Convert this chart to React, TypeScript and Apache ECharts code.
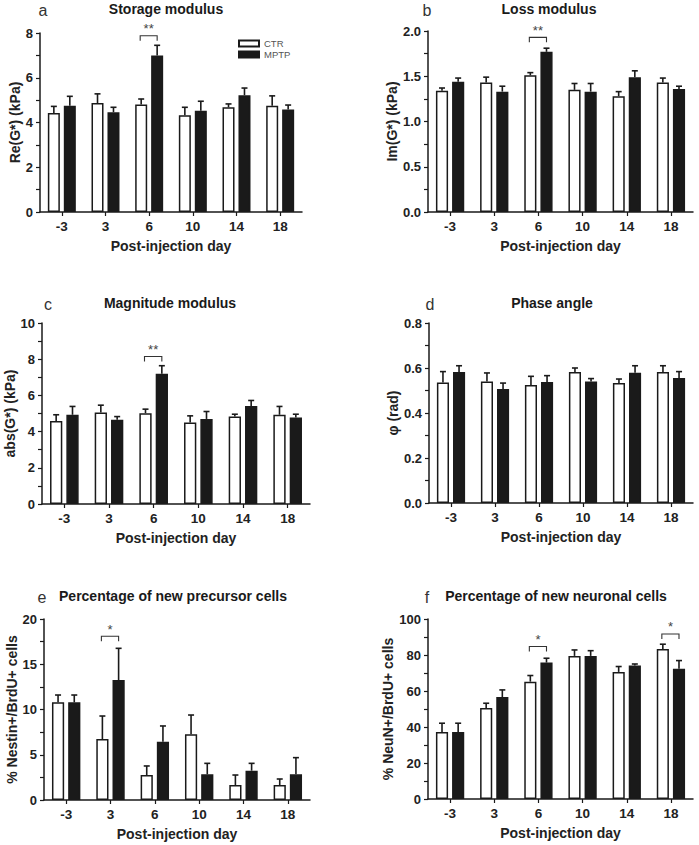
import React, { useEffect, useRef } from "react";
import * as echarts from "echarts";

// ---------- data ----------
const days = ["-3", "3", "6", "10", "14", "18"];

const storageCTR = [4.43, 4.87, 4.8, 4.32, 4.68, 4.75];
const storageCTRErr = [0.29, 0.41, 0.25, 0.36, 0.15, 0.44];
const storageMPTP = [4.75, 4.46, 7.0, 4.53, 5.22, 4.58];
const storageMPTPErr = [0.42, 0.22, 0.45, 0.42, 0.32, 0.2];

const lossCTR = [1.34, 1.43, 1.51, 1.35, 1.28, 1.43];
const lossCTRErr = [0.03, 0.06, 0.03, 0.07, 0.05, 0.05];
const lossMPTP = [1.44, 1.33, 1.77, 1.33, 1.49, 1.36];
const lossMPTPErr = [0.04, 0.06, 0.04, 0.09, 0.07, 0.03];

const magCTR = [4.59, 5.06, 5.02, 4.5, 4.83, 4.93];
const magCTRErr = [0.34, 0.4, 0.22, 0.37, 0.13, 0.46];
const magMPTP = [4.93, 4.65, 7.2, 4.7, 5.42, 4.78];
const magMPTPErr = [0.46, 0.18, 0.44, 0.41, 0.3, 0.18];

const phaseCTR = [0.536, 0.54, 0.524, 0.582, 0.533, 0.582];
const phaseCTRErr = [0.048, 0.038, 0.039, 0.018, 0.018, 0.028];
const phaseMPTP = [0.582, 0.507, 0.538, 0.54, 0.579, 0.556];
const phaseMPTPErr = [0.028, 0.026, 0.028, 0.013, 0.031, 0.028];

const nestinCTR = [10.8, 6.74, 2.76, 7.26, 1.66, 1.66];
const nestinCTRErr = [0.8, 2.54, 1.0, 2.13, 1.1, 0.66];
const nestinMPTP = [10.8, 13.26, 6.45, 2.84, 3.24, 2.84];
const nestinMPTPErr = [0.8, 3.5, 1.73, 1.21, 0.81, 1.84];

const neunCTR = [37.2, 50.5, 65.2, 79.5, 70.6, 83.4];
const neunCTRErr = [4.9, 2.7, 3.4, 3.3, 3.0, 2.6];
const neunMPTP = [37.2, 56.6, 75.8, 79.5, 74.1, 72.3];
const neunMPTPErr = [4.9, 4.0, 2.4, 2.9, 0.9, 4.6];

const sigA = [{ day: "6", level: 7.88, mark: "**" }];
const sigB = [{ day: "6", level: 1.93, mark: "**" }];
const sigC = [{ day: "6", level: 8.15, mark: "**" }];
const sigD: { day: string; level: number; mark: string }[] = [];
const sigE = [{ day: "3", level: 18.1, mark: "*" }];
const sigF = [
  { day: "6", level: 84.7, mark: "*" },
  { day: "18", level: 91.7, mark: "*" },
];

const FONT = "'Liberation Sans', Arial, Helvetica, sans-serif";
const INK = "#1a1a1a";
const BAR_W = 0.275;
const BAR_GAP = 0.33;

type Panel = {
  letter: string;
  title: string;
  yName: string;
  ctr: number[];
  ctrErr: number[];
  mptp: number[];
  mptpErr: number[];
  sig: { day: string; level: number; mark: string }[];
  max: number;
  interval: number;
  decimals: number;
  // layout
  grid: { left: number; top: number; width: number; height: number };
  nameGap: number;
  titleX: number;
  titleY: number;
  letterX: number;
};

const panels: Panel[] = [
  {
    letter: "a", title: "Storage modulus", yName: "Re(G*) (kPa)",
    ctr: storageCTR, ctrErr: storageCTRErr, mptp: storageMPTP, mptpErr: storageMPTPErr,
    sig: sigA, max: 8, interval: 2, decimals: 0,
    grid: { left: 40, top: 33, width: 262, height: 179 }, nameGap: 18,
    titleX: 166, titleY: 9, letterX: 43,
  },
  {
    letter: "b", title: "Loss modulus", yName: "Im(G*) (kPa)",
    ctr: lossCTR, ctrErr: lossCTRErr, mptp: lossMPTP, mptpErr: lossMPTPErr,
    sig: sigB, max: 2, interval: 0.5, decimals: 1,
    grid: { left: 428, top: 31, width: 265, height: 181 }, nameGap: 28,
    titleX: 549, titleY: 9, letterX: 427,
  },
  {
    letter: "c", title: "Magnitude modulus", yName: "abs(G*) (kPa)",
    ctr: magCTR, ctrErr: magCTRErr, mptp: magMPTP, mptpErr: magMPTPErr,
    sig: sigC, max: 10, interval: 2, decimals: 0,
    grid: { left: 42, top: 323, width: 268, height: 181 }, nameGap: 22,
    titleX: 170, titleY: 303, letterX: 48,
  },
  {
    letter: "d", title: "Phase angle", yName: "φ (rad)",
    ctr: phaseCTR, ctrErr: phaseCTRErr, mptp: phaseMPTP, mptpErr: phaseMPTPErr,
    sig: sigD, max: 0.8, interval: 0.2, decimals: 1,
    grid: { left: 429, top: 323, width: 264, height: 180 }, nameGap: 29,
    titleX: 552, titleY: 303, letterX: 430,
  },
  {
    letter: "e", title: "Percentage of new precursor cells", yName: "% Nestin+/BrdU+ cells",
    ctr: nestinCTR, ctrErr: nestinCTRErr, mptp: nestinMPTP, mptpErr: nestinMPTPErr,
    sig: sigE, max: 20, interval: 5, decimals: 0,
    grid: { left: 44, top: 619, width: 266, height: 181 }, nameGap: 24,
    titleX: 173, titleY: 596, letterX: 42,
  },
  {
    letter: "f", title: "Percentage of new neuronal cells", yName: "% NeuN+/BrdU+ cells",
    ctr: neunCTR, ctrErr: neunCTRErr, mptp: neunMPTP, mptpErr: neunMPTPErr,
    sig: sigF, max: 100, interval: 20, decimals: 0,
    grid: { left: 428, top: 619, width: 265, height: 180 }, nameGap: 29,
    titleX: 556, titleY: 596, letterX: 427,
  },
];

function barOffset(api: any) {
  const band = api.size([1, 0])[0];
  const bw = band * BAR_W;
  const gap = bw * BAR_GAP;
  return (bw + gap) / 2;
}

function buildOption() {
  const grid: any[] = [];
  const xAxis: any[] = [];
  const yAxis: any[] = [];
  const series: any[] = [];
  const graphic: any[] = [];

  panels.forEach((p, i) => {
    grid.push({ ...p.grid, containLabel: false });
    xAxis.push({
      type: "category",
      gridIndex: i,
      data: days,
      axisLine: { lineStyle: { color: INK, width: 1.5 } },
      axisTick: { show: true, alignWithLabel: true, length: 4, lineStyle: { color: INK, width: 1.2 } },
      axisLabel: { fontSize: 13.5, fontWeight: "bold", color: "#222", margin: 7, fontFamily: FONT },
      name: "Post-injection day",
      nameLocation: "middle",
      nameGap: 27,
      nameTextStyle: { fontSize: 14, fontWeight: "bold", color: "#222", fontFamily: FONT },
    });
    yAxis.push({
      type: "value",
      gridIndex: i,
      min: 0,
      max: p.max,
      interval: p.interval,
      axisLine: { show: true, lineStyle: { color: INK, width: 1.5 } },
      axisTick: { show: true, length: 4, lineStyle: { color: INK, width: 1.2 } },
      minorTick: { show: true, splitNumber: 2, length: 4, lineStyle: { color: INK, width: 1.2 } },
      splitLine: { show: false },
      minorSplitLine: { show: false },
      axisLabel: {
        fontSize: 13, fontWeight: "bold", color: "#222", margin: 7, fontFamily: FONT,
        formatter: (v: number) => v.toFixed(p.decimals),
      },
      name: p.yName,
      nameLocation: "middle",
      nameRotate: 90,
      nameGap: p.nameGap,
      nameTextStyle: { fontSize: 14, fontWeight: "bold", color: "#222", fontFamily: FONT },
    });

    series.push({
      type: "bar", name: "CTR", xAxisIndex: i, yAxisIndex: i,
      data: p.ctr, barWidth: BAR_W * 100 + "%", barGap: BAR_GAP * 100 + "%",
      itemStyle: { color: "#ffffff", borderColor: INK, borderWidth: 1.5 },
    });
    series.push({
      type: "bar", name: "MPTP", xAxisIndex: i, yAxisIndex: i,
      data: p.mptp, barWidth: BAR_W * 100 + "%", barGap: BAR_GAP * 100 + "%",
      itemStyle: { color: INK, borderColor: INK, borderWidth: 1.5 },
    });

    const errData = days.map((_, k) => [k, p.ctr[k], p.ctrErr[k], p.mptp[k], p.mptpErr[k]]);
    series.push({
      type: "custom", name: "err" + i, xAxisIndex: i, yAxisIndex: i, z: 5,
      data: errData,
      encode: { x: 0, y: 1 },
      silent: true,
      renderItem: (_params: any, api: any) => {
        const idx = api.value(0);
        const off = barOffset(api);
        const children: any[] = [];
        const pairs: [number, number, number][] = [
          [api.value(1), api.value(2), -1],
          [api.value(3), api.value(4), 1],
        ];
        pairs.forEach(([m, e, s]) => {
          const p0 = api.coord([idx, m]);
          const p1 = api.coord([idx, m + e]);
          const x = p0[0] + s * off;
          children.push({
            type: "line",
            shape: { x1: x, y1: p0[1], x2: x, y2: p1[1] },
            style: { stroke: INK, lineWidth: 1.6 },
          });
          children.push({
            type: "line",
            shape: { x1: x - 3, y1: p1[1], x2: x + 3, y2: p1[1] },
            style: { stroke: INK, lineWidth: 1.6 },
          });
        });
        return { type: "group", children };
      },
    });

    if (p.sig.length) {
      const sigData = p.sig.map((s) => [days.indexOf(s.day), s.level]);
      series.push({
        type: "custom", name: "sig" + i, xAxisIndex: i, yAxisIndex: i, z: 6,
        data: sigData,
        encode: { x: 0, y: 1 },
        silent: true,
        renderItem: (params: any, api: any) => {
          const idx = api.value(0);
          const lvl = api.value(1);
          const off = barOffset(api);
          const c = api.coord([idx, lvl]);
          const xC = c[0] - off - 1;
          const xM = c[0] + off;
          const y = c[1];
          const mark = p.sig[params.dataIndex].mark;
          return {
            type: "group",
            children: [
              {
                type: "polyline",
                shape: { points: [[xC, y + 5], [xC, y], [xM, y], [xM, y + 5]] },
                style: { stroke: "#333", lineWidth: 1.1, fill: "none" },
              },
              {
                type: "text",
                x: (xC + xM) / 2,
                y: y - 0.5,
                style: {
                  text: mark, fill: "#444", fontSize: 13, fontFamily: FONT,
                  align: "center", verticalAlign: "bottom",
                  textAlign: "center", textVerticalAlign: "bottom",
                },
              },
            ],
          };
        },
      });
    }

    graphic.push({
      type: "text", x: p.titleX, y: p.titleY,
      style: {
        text: p.title, fill: "#1a1a1a", fontSize: 14, fontWeight: "bold", fontFamily: FONT,
        align: "center", verticalAlign: "middle", textAlign: "center", textVerticalAlign: "middle",
      },
    });
    graphic.push({
      type: "text", x: p.letterX, y: p.titleY + 1,
      style: {
        text: p.letter, fill: "#333", fontSize: 16, fontFamily: FONT,
        align: "center", verticalAlign: "middle", textAlign: "center", textVerticalAlign: "middle",
      },
    });
  });

  return {
    animation: false,
    backgroundColor: "#ffffff",
    grid,
    xAxis,
    yAxis,
    series,
    graphic,
    legend: {
      data: ["CTR", "MPTP"],
      orient: "vertical",
      left: 238,
      top: 38,
      padding: 0,
      itemWidth: 20,
      itemHeight: 6,
      itemGap: 0,
      icon: "rect",
      textStyle: { fontSize: 9.5, color: "#555", fontFamily: FONT, lineHeight: 11 },
      selectedMode: false,
    },
  };
}

export default function App() {
  const ref = useRef<HTMLDivElement>(null);
  useEffect(() => {
    if (!ref.current) return;
    const chart = echarts.init(ref.current, undefined, { renderer: "svg" });
    chart.setOption(buildOption() as any);
    return () => chart.dispose();
  }, []);
  return (
    <div
      ref={ref}
      style={{ position: "absolute", left: 0, top: 0, width: 699, height: 845, background: "#fff" }}
    />
  );
}
